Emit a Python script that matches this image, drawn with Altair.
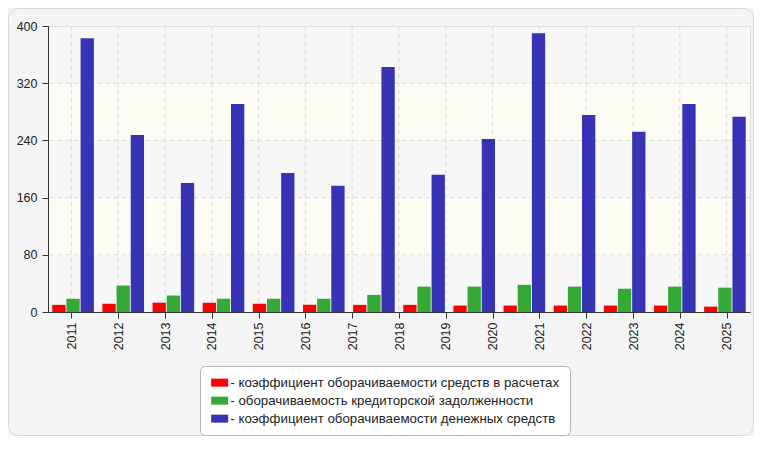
import altair as alt
import pandas as pd

# ---- data ----
groups = list(range(1, 15))
year_labels = [str(y) for y in range(2011, 2026)]
series_names = [
    "коэффициент оборачиваемости средств в расчетах",
    "оборачиваемость кредиторской задолженности",
    "коэффициент оборачиваемости денежных средств",
]
series_colors = ["#ff0000", "#35a935", "#3634b4"]
red_vals = [10, 11.5, 13, 13, 11.5, 10, 10, 10, 9, 9, 9, 9, 9, 7.5]
green_vals = [18.5, 37, 23, 18.5, 18.5, 18.5, 24, 35.5, 35.5, 38, 35.5, 32.5, 35.5, 34]
blue_vals = [383, 247.5, 180.5, 291, 194.5, 176.5, 342.5, 192, 242, 390, 275.5, 252, 291, 273]
y_ticks = [0, 80, 160, 240, 320, 400]
grid_vals = [80, 160, 240, 320]
cream_lo = [80, 240]
cream_hi = [160, 320]

rows = []
for name, vals in zip(series_names, [red_vals, green_vals, blue_vals]):
    for g, v in zip(groups, vals):
        rows.append({"group": g, "series": name, "value": v})
bars_df = pd.DataFrame(rows)
years_df = pd.DataFrame({"year": year_labels})
grid_df = pd.DataFrame({"v": grid_vals})
cream_df = pd.DataFrame({"lo": cream_lo, "hi": cream_hi})
one_df = pd.DataFrame({"a": [0]})

FONT = "Liberation Sans"
W, H = 702, 286
yscale = alt.Scale(domain=[0, 400], nice=False)
yaxis = alt.Axis(values=y_ticks, grid=False, title=None, domainColor="#333333",
                 tickColor="#333333", tickSize=6, labelFontSize=12.5, labelFont=FONT,
                 labelColor="#222222", labelPadding=5, zindex=1)

frame = alt.Chart(one_df).mark_rect(filled=False, stroke="#d8d8d8", strokeWidth=1,
                                    cornerRadius=10).encode(
    x=alt.value(-39.5), x2=alt.value(705.5), y=alt.value(-17.5), y2=alt.value(409.5))

cream = alt.Chart(cream_df).mark_rect(color="#fcfcf4").encode(
    y=alt.Y("lo:Q", scale=yscale, axis=yaxis), y2="hi:Q",
    x=alt.value(0), x2=alt.value(W - 1))

hgrid = alt.Chart(grid_df).mark_rule(color="#dcdcdc", strokeDash=[5, 3]).encode(
    y=alt.Y("v:Q", scale=yscale, axis=yaxis))

vgrid = alt.Chart(years_df).mark_rule(color="#dcdcdc", strokeDash=[5, 3]).encode(
    x=alt.X("year:O", sort=year_labels, scale=alt.Scale(type="point", padding=0.5),
            axis=alt.Axis(title=None, labelAngle=270, labelAlign="right",
                          labelBaseline="middle", tickSize=6, domainColor="#333333",
                          tickColor="#333333", labelFontSize=12.5, labelFont=FONT,
                          labelColor="#222222", labelPadding=4, grid=False, zindex=1)))

bars = alt.Chart(bars_df).mark_bar().encode(
    x=alt.X("group:O", axis=None, scale=alt.Scale(paddingInner=0.17, paddingOuter=0.085)),
    xOffset=alt.XOffset("series:N", sort=series_names, scale=alt.Scale(paddingInner=0.06)),
    y=alt.Y("value:Q", scale=yscale, axis=yaxis),
    color=alt.Color("series:N", sort=series_names,
                    scale=alt.Scale(domain=series_names, range=series_colors),
                    legend=alt.Legend(title=None, orient="none", legendX=152, legendY=340,
                                      direction="vertical", fillColor="white",
                                      strokeColor="#b4b4b4", cornerRadius=5, padding=10,
                                      labelFontSize=13.3, labelFont=FONT, labelColor="#222222",
                                      symbolType="M-1.7,-0.8H1.7V0.8H-1.7Z", symbolSize=100,
                                      symbolStrokeWidth=0, rowPadding=4, symbolOffset=3,
                                      labelOffset=4, labelLimit=0,
                                      labelExpr="'- ' + datum.label")),
)

chart = alt.layer(frame, cream, hgrid, vgrid, bars).resolve_scale(
    x="independent"
).properties(
    width=W, height=H,
    autosize=alt.AutoSizeParams(type="none"),
    padding={"left": 40, "top": 18, "right": 4, "bottom": 124},
).configure(
    background="#f4f4f4", font=FONT
).configure_view(
    fill="#f7f7f7", stroke="#dddddd", strokeWidth=1
)

chart.save("out.html", embed_options={"renderer": "svg", "actions": False})
